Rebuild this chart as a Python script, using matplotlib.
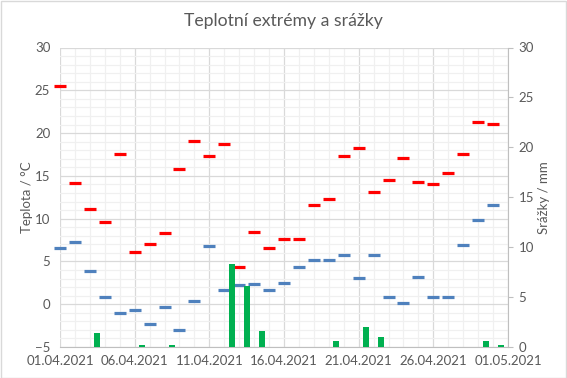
import pandas as pd
import matplotlib
matplotlib.use('Agg')
from matplotlib import pyplot as plt
from matplotlib.patches import Rectangle
import matplotlib.dates as mdates
from matplotlib.ticker import MultipleLocator

# daily values, 01.04.2021 .. 30.04.2021
t_max = [25.5, 14.2, 11.1, 9.6, 17.6, 6.1, 7.0, 8.3, 15.8, 19.1,
         17.3, 18.7, 4.3, 8.4, 6.6, 7.6, 7.6, 11.6, 12.3, 17.3,
         18.3, 13.1, 14.5, 17.1, 14.3, 14.0, 15.3, 17.6, 21.3, 21.1]
t_min = [6.6, 7.3, 3.9, 0.8, -1.0, -0.7, -2.3, -0.3, -3.0, 0.4,
         6.8, 1.7, 2.2, 2.4, 1.7, 2.5, 4.3, 5.2, 5.2, 5.7,
         3.1, 5.7, 0.8, 0.1, 3.2, 0.8, 0.8, 6.9, 9.8, 11.6]
precip = [0, 0, 1.4, 0, 0, 0.2, 0, 0.2, 0, 0,
          0, 8.3, 6.1, 1.6, 0, 0, 0, 0, 0.6, 0,
          2.0, 1.0, 0, 0, 0, 0, 0, 0, 0.6, 0.2]

dates = pd.date_range('2021-04-01', periods=30, freq='D')
grey = '#595959'

plt.rcParams['font.family'] = ['Lato', 'DejaVu Sans']

fig = plt.figure(figsize=(5.67, 3.78), dpi=100)
ax = fig.add_axes([60 / 567, 31 / 378, 448 / 567, 299.5 / 378])
ax2 = ax.twinx()

ax.plot(dates, t_max, linestyle='none', marker='_', ms=9, mew=2.3,
        color='#ff0000', clip_on=False, zorder=3)
ax.plot(dates, t_min, linestyle='none', marker='_', ms=9, mew=2.3,
        color='#4f81bd', clip_on=False, zorder=3)
ax2.bar(dates + pd.Timedelta(hours=12), precip, width=0.4, color='#00b050',
        zorder=3)

start, end = pd.Timestamp('2021-04-01'), pd.Timestamp('2021-05-01')
ax.set_xlim(start, end)
ax.set_ylim(-5, 30)
ax2.set_ylim(0, 30)

ax.xaxis.set_major_locator(mdates.DayLocator(bymonthday=[1, 6, 11, 16, 21, 26]))
ax.xaxis.set_minor_locator(mdates.DayLocator())
ax.xaxis.set_major_formatter(mdates.DateFormatter('%d.%m.%Y'))
ax.yaxis.set_major_locator(MultipleLocator(5))
ax.yaxis.set_minor_locator(MultipleLocator(1))
ax2.yaxis.set_major_locator(MultipleLocator(5))

ax.grid(which='major', color='#d9d9d9', lw=0.9)
ax.grid(which='minor', color='#f0f0f0', lw=0.9)
ax.set_axisbelow(True)

for a in (ax, ax2):
    for s in a.spines.values():
        s.set_visible(False)
ax2.spines['right'].set_visible(True)
ax2.spines['right'].set_color('#bfbfbf')
ax.spines['bottom'].set_visible(True)
ax.spines['bottom'].set_color('#bfbfbf')

ax.tick_params(which='both', length=0, colors=grey, labelsize=9.5, pad=6)
ax.tick_params(axis='y', pad=7)
ax2.tick_params(axis='y', length=3.5, color='#bfbfbf', labelcolor=grey,
                labelsize=9.5, pad=4)

ax.set_ylabel('Teplota / °C', color=grey, fontsize=9.5)
ax.yaxis.set_label_coords(-0.060, 0.5)
ax2.set_ylabel('Srážky / mm', color=grey, fontsize=9.5)
ax2.yaxis.set_label_coords(1.066, 0.5)
fig.suptitle('Teplotní extrémy a srážky', color=grey, fontsize=12.7, y=0.965)

fig.patches.append(Rectangle((0.5 / 567, 0.5 / 378), 565.5 / 567, 376.5 / 378,
                             transform=fig.transFigure, fill=False,
                             edgecolor='#d9d9d9', lw=1))

fig.savefig('out.png', dpi=100)
